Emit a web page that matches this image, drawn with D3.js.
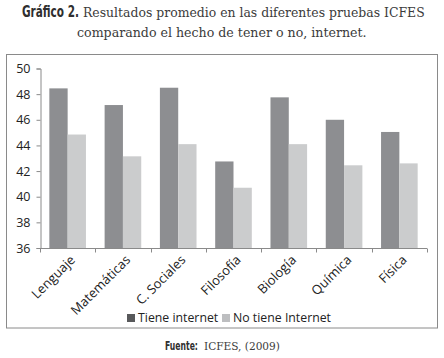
<!DOCTYPE html>
<html>
<head>
<meta charset="utf-8">
<script src="https://cdn.jsdelivr.net/npm/d3@7"></script>
<style>
  body { margin: 0; background: #fff; }
  svg { display: block; }
</style>
</head>
<body>
<svg id="chart" width="444" height="358"></svg>
<script>
// data
const categories = ["Lenguaje", "Matemáticas", "C. Sociales", "Filosofía", "Biología", "Química", "Física"]
const tieneInternet = [48.45, 47.15, 48.5, 42.75, 47.75, 46.0, 45.05]
const noTieneInternet = [44.85, 43.15, 44.1, 40.7, 44.1, 42.45, 42.6]
const seriesNames = ["Tiene internet", "No tiene Internet"]
const yTicks = [36, 38, 40, 42, 44, 46, 48, 50]

const svg = d3.select('#chart')
const plot = { left: 40, right: 427, top: 68.5, bottom: 248 }
const colors = { dark: '#8d8e91', light: '#cbcccd', legDark: '#58595b', legLight: '#bdbec0' }
const labelFont = "'Open Sans', 'Noto Sans', sans-serif"
const boldFont = "'Liberation Sans Narrow', 'DejaVu Sans Condensed', sans-serif"
const serifFont = "'DejaVu Serif', serif"

// caption pieces squeezed horizontally to the width they have in the picture
function caption(txt, x, y, font, size, weight, len) {
    const t = svg.append('text')
        .attr('fill', weight === 'bold' ? '#2f2f2f' : '#3b3b3b')
        .style('font-family', font)
        .style('font-size', size + 'px')
        .style('font-weight', weight)
        .text(txt)
    const natural = t.node().getComputedTextLength()
    t.attr('transform', `translate(${x},${y}) scale(${len / natural},1)`)
    return t
}

// title
caption('Gráfico 2.', 22, 17, boldFont, 16, 'bold', 57)
caption('Resultados promedio en las diferentes pruebas ICFES', 83, 17, serifFont, 13.5, 'normal', 342)
caption('comparando el hecho de tener o no, internet.', 77, 37, serifFont, 13.5, 'normal', 290)

// frame
svg.append('rect')
    .attr('x', 6.5)
    .attr('y', 54.5)
    .attr('width', 431)
    .attr('height', 273.5)
    .attr('fill', 'none')
    .attr('stroke', '#8a8a8a')
    .attr('stroke-width', 1)

// scales
const x = d3.scaleBand().domain(categories).range([plot.left, plot.right])
const inner = d3.scaleBand().domain(seriesNames).range([0, x.bandwidth()]).paddingOuter(0.51).paddingInner(0)
const y = d3.scaleLinear().domain([36, 50]).range([plot.bottom, plot.top])

// bars
const rows = categories.map((c, i) => ({ cat: c, vals: [tieneInternet[i], noTieneInternet[i]] }))
svg.append('g')
    .selectAll('g')
    .data(rows)
    .join('g')
    .attr('transform', d => `translate(${x(d.cat)},0)`)
    .selectAll('rect')
    .data(d => d.vals.map((v, j) => ({ name: seriesNames[j], v: v })))
    .join('rect')
    .attr('x', d => inner(d.name))
    .attr('width', inner.bandwidth())
    .attr('y', d => y(d.v))
    .attr('height', d => y(36) - y(d.v))
    .attr('fill', d => d.name === seriesNames[0] ? colors.dark : colors.light)

// y axis
const yAxis = svg.append('g')
    .attr('transform', `translate(${plot.left + 0.5},0)`)
    .call(d3.axisLeft(y).tickValues(yTicks).tickSize(4).tickPadding(6))
yAxis.select('.domain').attr('stroke', '#8a8a8a')
yAxis.selectAll('line').attr('stroke', '#8a8a8a')
yAxis.selectAll('text')
    .attr('fill', '#222')
    .style('font-family', labelFont)
    .style('font-size', '12.5px')

// x axis: ticks at category boundaries
const xAxis = svg.append('g').attr('transform', `translate(0,${plot.bottom + 0.5})`)
xAxis.append('line')
    .attr('x1', plot.left).attr('x2', plot.right)
    .attr('stroke', '#8a8a8a')
const bounds = categories.map(c => x(c)).concat([plot.right])
xAxis.selectAll('.tick')
    .data(bounds)
    .join('line')
    .attr('class', 'tick')
    .attr('x1', d => Math.round(d) + 0.5).attr('x2', d => Math.round(d) + 0.5)
    .attr('y1', 0).attr('y2', 4)
    .attr('stroke', '#8a8a8a')
xAxis.selectAll('text')
    .data(categories)
    .join('text')
    .attr('transform', d => `translate(${x(d) + x.bandwidth() / 2 + 5},${9}) rotate(-45)`)
    .attr('text-anchor', 'end')
    .attr('dy', '0.35em')
    .attr('fill', '#222')
    .style('font-family', labelFont)
    .style('font-size', '13px')
    .text(d => d)

// legend
const legend = svg.append('g').attr('transform', 'translate(127,318)')
const legendItems = [
    { name: seriesNames[0], color: colors.legDark, x: 0 },
    { name: seriesNames[1], color: colors.legLight, x: 95 }
]
const li = legend.selectAll('g').data(legendItems).join('g')
    .attr('transform', d => `translate(${d.x},0)`)
li.append('rect')
    .attr('x', 0).attr('y', -4)
    .attr('width', 8).attr('height', 8)
    .attr('fill', d => d.color)
li.append('text')
    .attr('x', 11)
    .attr('dy', '0.35em')
    .attr('fill', '#222')
    .style('font-family', labelFont)
    .style('font-size', '12.3px')
    .text(d => d.name)

// source
caption('Fuente:', 165, 350, boldFont, 12, 'bold', 33)
caption('ICFES, (2009)', 204, 350, serifFont, 11, 'normal', 76)
</script>
</body>
</html>
